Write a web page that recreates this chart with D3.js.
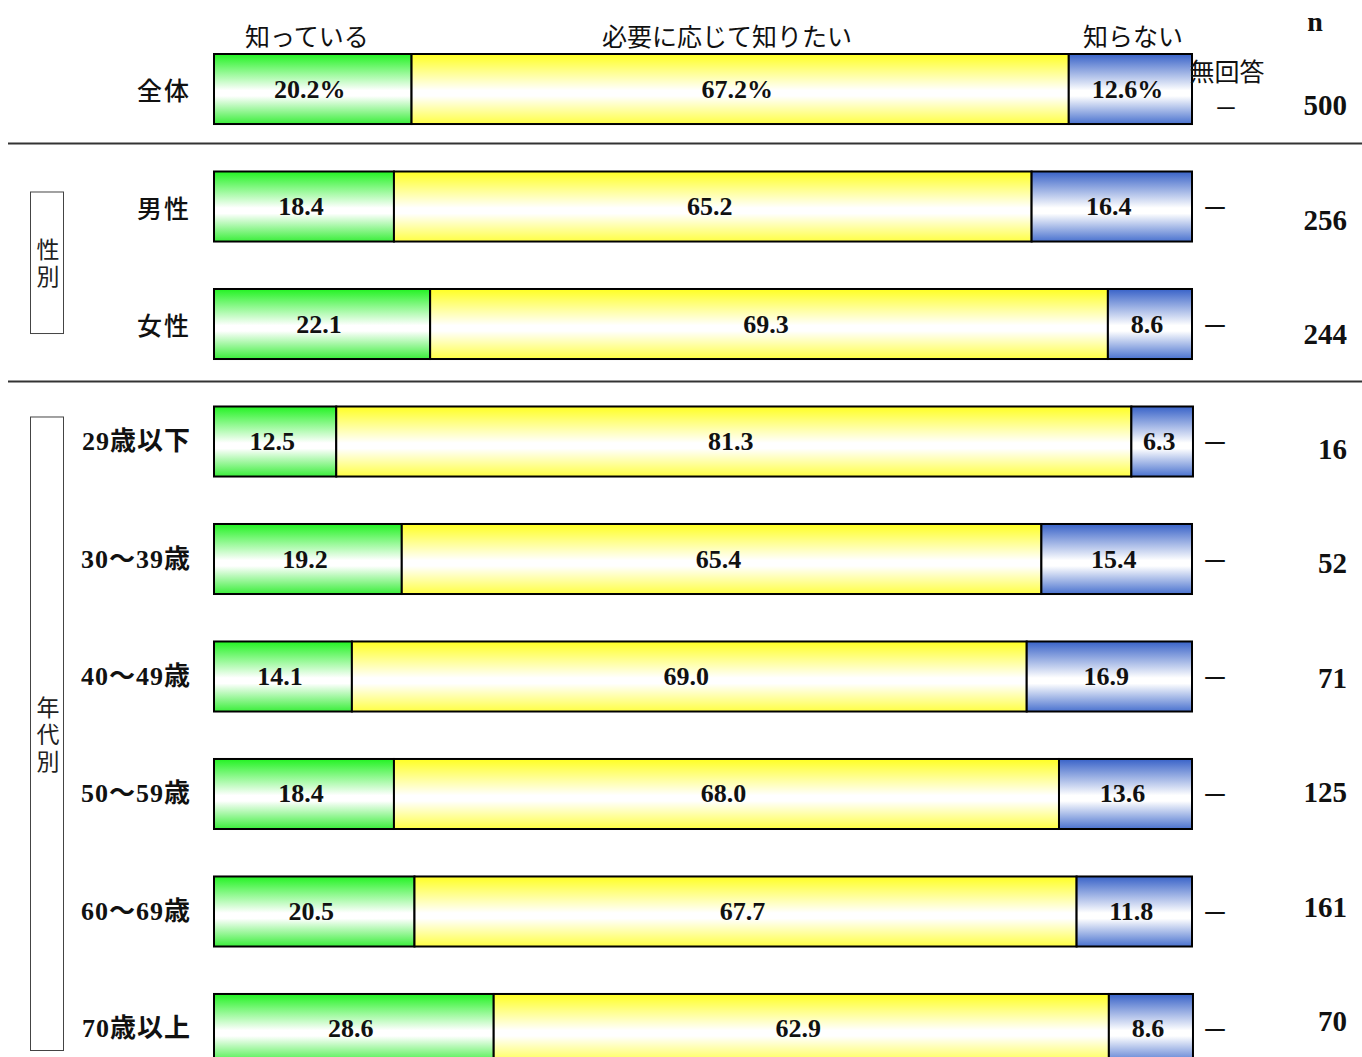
<!DOCTYPE html>
<html lang="ja">
<head>
<meta charset="utf-8">
<script src="https://cdn.jsdelivr.net/npm/d3@7/dist/d3.min.js"></script>
<style>
  html, body { margin: 0; padding: 0; background: #fff; }
  svg { display: block; }
</style>
</head>
<body>
<svg id="chart" width="1362" height="1057"></svg>
<script>
// 認知度（知っている／必要に応じて知りたい／知らない／無回答）
const categories = ["全体", "男性", "女性", "29歳以下", "30～39歳", "40～49歳", "50～59歳", "60～69歳", "70歳以上"];
const known      = [20.2, 18.4, 22.1, 12.5, 19.2, 14.1, 18.4, 20.5, 28.6];
const wantToKnow = [67.2, 65.2, 69.3, 81.3, 65.4, 69.0, 68.0, 67.7, 62.9];
const notKnown   = [12.6, 16.4,  8.6,  6.3, 15.4, 16.9, 13.6, 11.8,  8.6];
const noAnswer   = ["－", "－", "－", "－", "－", "－", "－", "－", "－"];
const counts     = [500, 256, 244, 16, 52, 71, 125, 161, 70];
const seriesNames = ["知っている", "必要に応じて知りたい", "知らない"];
const groups = [
  { label: "性別",   first: "男性",     last: "女性",     padTop: 20, padBottom: 26 },
  { label: "年代別", first: "29歳以下", last: "70歳以上", padTop: 10, padBottom: 14 }
];

const svg = d3.select("#chart");
const SERIF = "'Liberation Serif', 'Noto Sans CJK JP', serif";
const GOTHIC = "'Noto Sans CJK JP', sans-serif";

const x = d3.scaleLinear().domain([0, 100]).range([214, 1192]);
const y = d3.scaleBand().domain(categories).range([54, 1064])
  .paddingInner(0.404).paddingOuter(0);
// the n column runs on its own slightly tighter spacing
const yN = d3.scalePoint().domain(categories).range([105, 1021]);

// vertical gradients: full colour at the edges, white in the middle
const colours = [
  { id: "g-known", top: "#22f222", bottom: "#3aee3a" },
  { id: "g-want",  top: "#ffff22", bottom: "#ffff44" },
  { id: "g-not",   top: "#3862c8", bottom: "#4a72cf" }
];
const defs = svg.append("defs");
colours.forEach(c => {
  const g = defs.append("linearGradient").attr("id", c.id)
    .attr("x1", 0).attr("y1", 0).attr("x2", 0).attr("y2", 1);
  g.append("stop").attr("offset", "0%").attr("stop-color", c.top);
  g.append("stop").attr("offset", "52%").attr("stop-color", "#ffffff");
  g.append("stop").attr("offset", "60%").attr("stop-color", "#ffffff");
  g.append("stop").attr("offset", "100%").attr("stop-color", c.bottom);
});

const rows = categories.map((cat, i) => {
  const vals = [known[i], wantToKnow[i], notKnown[i]];
  let acc = 0;
  const segs = vals.map((v, k) => {
    const s = { cat, k, v, x0: acc, x1: acc + v, i };
    acc += v;
    return s;
  });
  return { cat, i, segs };
});

// section separators
const sepY = [y(categories[1]) - 28, y(categories[3]) - 25];
svg.selectAll("line.sep").data(sepY).join("line")
  .attr("class", "sep")
  .attr("x1", 8).attr("x2", 1362)
  .attr("y1", d => d).attr("y2", d => d)
  .attr("stroke", "#333").attr("stroke-width", 2);

// group boxes with vertical labels
groups.forEach(g => {
  const top = y(g.first) + g.padTop;
  const bottom = Math.min(y(g.last) + y.bandwidth() - g.padBottom, 1050);
  svg.append("rect")
    .attr("x", 30.5).attr("y", top + 0.5)
    .attr("width", 33).attr("height", bottom - top)
    .attr("fill", "none").attr("stroke", "#444").attr("stroke-width", 1);
  svg.append("text")
    .attr("x", 48).attr("y", (top + bottom) / 2 + 3)
    .attr("writing-mode", "vertical-rl")
    .attr("text-anchor", "middle")
    .attr("letter-spacing", 4)
    .attr("font-family", GOTHIC).attr("font-size", 23).attr("fill", "#222")
    .text(g.label);
});

// bars
const rowG = svg.selectAll("g.row").data(rows).join("g").attr("class", "row");
rowG.selectAll("rect.seg").data(d => d.segs).join("rect")
  .attr("class", "seg")
  .attr("x", d => x(d.x0))
  .attr("y", d => y(d.cat))
  .attr("width", d => x(d.x1) - x(d.x0))
  .attr("height", y.bandwidth())
  .attr("fill", d => `url(#${colours[d.k].id})`)
  .attr("stroke", "#000").attr("stroke-width", 2);

// value labels inside segments
rowG.selectAll("text.val").data(d => d.segs).join("text")
  .attr("class", "val")
  .attr("x", d => (x(d.x0) + x(d.x1)) / 2 - 3)
  .attr("y", d => y(d.cat) + y.bandwidth() / 2)
  .attr("text-anchor", "middle").attr("dominant-baseline", "central")
  .attr("font-family", SERIF).attr("font-weight", "bold").attr("font-size", 26)
  .attr("fill", "#111")
  .text(d => d.i === 0 ? d.v.toFixed(1) + "%" : d.v.toFixed(1));

// category labels
rowG.append("text")
  .attr("x", 191)
  .attr("y", d => y(d.cat) + y.bandwidth() / 2)
  .attr("text-anchor", "end").attr("dominant-baseline", "central")
  .attr("font-family", d => d.i < 3 ? GOTHIC : SERIF)
  .attr("font-weight", d => d.i < 3 ? "500" : "bold")
  .attr("font-size", d => d.i < 3 ? 25 : 26)
  .attr("letter-spacing", d => d.i < 3 ? 2 : 1)
  .attr("fill", "#111")
  .text(d => d.cat);

// no-answer dashes
rowG.append("text")
  .attr("x", d => d.i === 0 ? 1226 : 1215)
  .attr("y", d => y(d.cat) + y.bandwidth() / 2 + (d.i === 0 ? 17 : 0))
  .attr("text-anchor", "middle").attr("dominant-baseline", "central")
  .attr("font-family", GOTHIC).attr("font-size", d => d.i === 0 ? 24 : 27).attr("fill", "#111")
  .text(d => noAnswer[d.i]);

// sample sizes
rowG.append("text")
  .attr("x", 1347)
  .attr("y", d => yN(d.cat))
  .attr("text-anchor", "end").attr("dominant-baseline", "central")
  .attr("font-family", SERIF).attr("font-weight", "bold").attr("font-size", 29)
  .attr("fill", "#111")
  .text(d => counts[d.i]);

// series headers above the first bar
const firstRow = rows[0];
svg.selectAll("text.head").data(firstRow.segs).join("text")
  .attr("class", "head")
  .attr("x", d => [307, 727, 1133][d.k])
  .attr("y", 35)
  .attr("text-anchor", "middle").attr("dominant-baseline", "central")
  .attr("font-family", GOTHIC).attr("font-size", 25).attr("fill", "#111")
  .text(d => seriesNames[d.k]);

svg.append("text")
  .attr("x", 1227).attr("y", 70)
  .attr("text-anchor", "middle").attr("dominant-baseline", "central")
  .attr("font-family", GOTHIC).attr("font-size", 25).attr("fill", "#111")
  .text("無回答");

svg.append("text")
  .attr("x", 1315).attr("y", 21)
  .attr("text-anchor", "middle").attr("dominant-baseline", "central")
  .attr("font-family", SERIF).attr("font-weight", "bold").attr("font-size", 28)
  .attr("fill", "#111")
  .text("n");
</script>
</body>
</html>
